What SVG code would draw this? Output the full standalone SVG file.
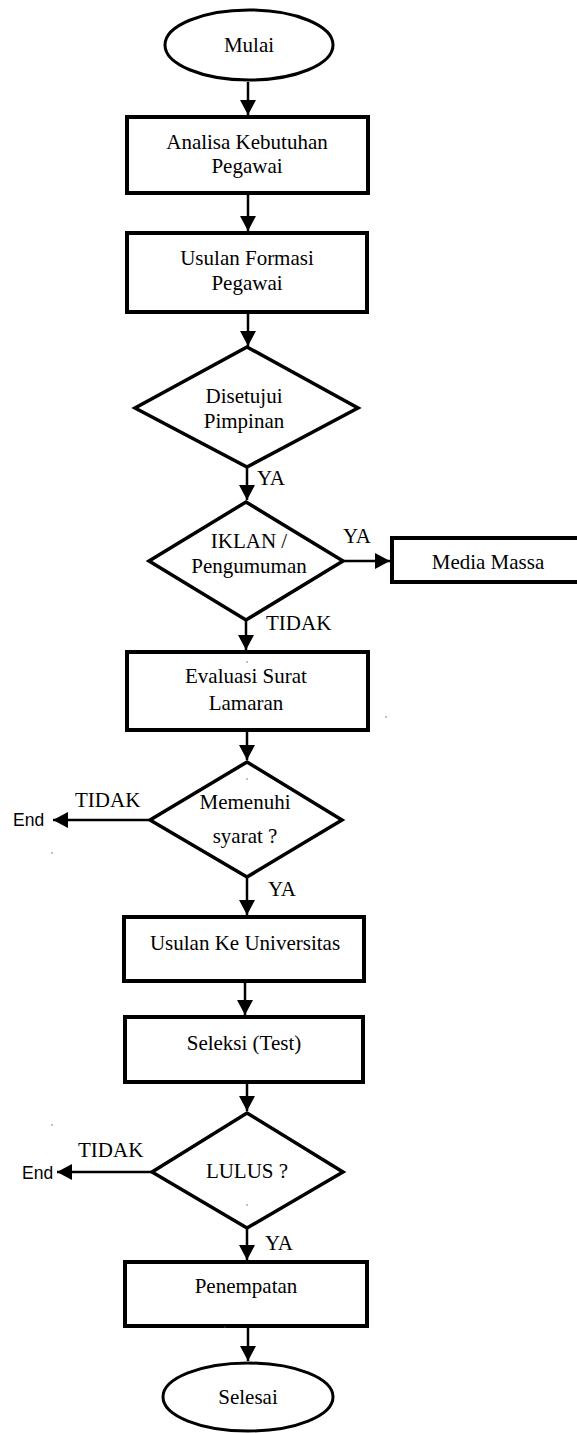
<svg xmlns="http://www.w3.org/2000/svg" width="577" height="1433" viewBox="0 0 577 1433">
<style>
.box{fill:#fff;stroke:#000;stroke-width:4}
.term{fill:#fff;stroke:#000;stroke-width:3}
.dec{fill:#fff;stroke:#000;stroke-width:3.5;stroke-linejoin:miter}
.t{font-family:'Liberation Serif','Times New Roman',serif;font-size:21px;fill:#000;text-anchor:middle}
.l{font-family:'Liberation Serif','Times New Roman',serif;font-size:21px;fill:#000}
.s{font-family:'Liberation Sans',Arial,sans-serif;font-size:17.5px;fill:#000}
.c{stroke:#000;stroke-width:2.5;fill:none;marker-end:url(#ah)}
.dot{fill:#555}
</style>
<defs>
<marker id="ah" markerUnits="userSpaceOnUse" markerWidth="16" markerHeight="16" refX="15" refY="8" orient="auto">
<path d="M0,0 L15,8 L0,16 z" fill="#000"/>
</marker>
</defs>
<rect width="577" height="1433" fill="#fff"/>
<g id="connectors">
<line class="c" x1="248" y1="82" x2="248" y2="115"/>
<line class="c" x1="248" y1="193" x2="248" y2="231"/>
<line class="c" x1="248" y1="312" x2="248" y2="346"/>
<line class="c" x1="247" y1="467" x2="247" y2="500"/>
<line class="c" x1="343" y1="561" x2="390" y2="561"/>
<line class="c" x1="246" y1="620" x2="246" y2="650"/>
<line class="c" x1="247" y1="730" x2="247" y2="760"/>
<line class="c" x1="150" y1="820" x2="53" y2="820"/>
<line class="c" x1="247" y1="877" x2="247" y2="915"/>
<line class="c" x1="245" y1="981" x2="245" y2="1015"/>
<line class="c" x1="247" y1="1082" x2="247" y2="1111"/>
<line class="c" x1="152" y1="1172" x2="57" y2="1172"/>
<line class="c" x1="247" y1="1228" x2="247" y2="1260"/>
<line class="c" x1="248" y1="1326" x2="248" y2="1361"/>
<text class="l" x="257" y="485">YA</text>
<text class="l" x="343" y="543">YA</text>
<text class="l" x="266" y="630">TIDAK</text>
<text class="l" x="75" y="807">TIDAK</text>
<text class="s" x="13" y="826">End</text>
<text class="l" x="268" y="896">YA</text>
<text class="l" x="78" y="1157">TIDAK</text>
<text class="s" x="22" y="1179">End</text>
<text class="l" x="265" y="1250">YA</text>
</g>
<g id="mulai">
<ellipse class="term" cx="249" cy="45" rx="84" ry="35"/>
<text class="t" x="249" y="52">Mulai</text>
</g>
<g id="analisa">
<rect class="box" x="127" y="117" width="241" height="76"/>
<text class="t" x="247" y="149">Analisa Kebutuhan</text>
<text class="t" x="247" y="173">Pegawai</text>
</g>
<g id="usulan-formasi">
<rect class="box" x="127" y="233" width="240" height="79"/>
<text class="t" x="247" y="265">Usulan Formasi</text>
<text class="t" x="247" y="290">Pegawai</text>
</g>
<g id="disetujui">
<polygon class="dec" points="247,347 358,408 247,467 135,408"/>
<text class="t" x="244" y="403">Disetujui</text>
<text class="t" x="244" y="428">Pimpinan</text>
</g>
<g id="iklan">
<polygon class="dec" points="246,502 343,561 246,620 149,561"/>
<text class="t" x="249" y="548">IKLAN /</text>
<text class="t" x="249" y="573">Pengumuman</text>
</g>
<g id="media-massa">
<rect class="box" x="392" y="538" width="200" height="44"/>
<text class="t" x="488" y="569">Media Massa</text>
</g>
<g id="evaluasi">
<rect class="box" x="127" y="652" width="241" height="78"/>
<text class="t" x="246" y="683">Evaluasi Surat</text>
<text class="t" x="246" y="710">Lamaran</text>
</g>
<g id="memenuhi">
<polygon class="dec" points="247,762 342,820 247,877 150,820"/>
<text class="t" x="245" y="809">Memenuhi</text>
<text class="t" x="245" y="843">syarat ?</text>
</g>
<g id="usulan-universitas">
<rect class="box" x="124" y="917" width="240" height="64"/>
<text class="t" x="245" y="950">Usulan Ke Universitas</text>
</g>
<g id="seleksi">
<rect class="box" x="125" y="1017" width="238" height="65"/>
<text class="t" x="244" y="1050">Seleksi (Test)</text>
</g>
<g id="lulus">
<polygon class="dec" points="247,1113 343,1172 247,1228 152,1172"/>
<text class="t" x="247" y="1178">LULUS ?</text>
</g>
<g id="penempatan">
<rect class="box" x="125" y="1262" width="242" height="64"/>
<text class="t" x="246" y="1293">Penempatan</text>
</g>
<g id="selesai">
<ellipse class="term" cx="248" cy="1397" rx="85" ry="34"/>
<text class="t" x="248" y="1404">Selesai</text>
</g>
<g id="specks">
<circle class="dot" cx="247" cy="662" r="0.7"/>
<circle class="dot" cx="386" cy="717" r="0.7"/>
<circle class="dot" cx="247" cy="779" r="0.7"/>
<circle class="dot" cx="52" cy="853" r="0.7"/>
<circle class="dot" cx="52" cy="1125" r="0.7"/>
<circle class="dot" cx="247" cy="1205" r="0.7"/>
<circle class="dot" cx="225" cy="1327" r="0.7"/>
</g>
</svg>
